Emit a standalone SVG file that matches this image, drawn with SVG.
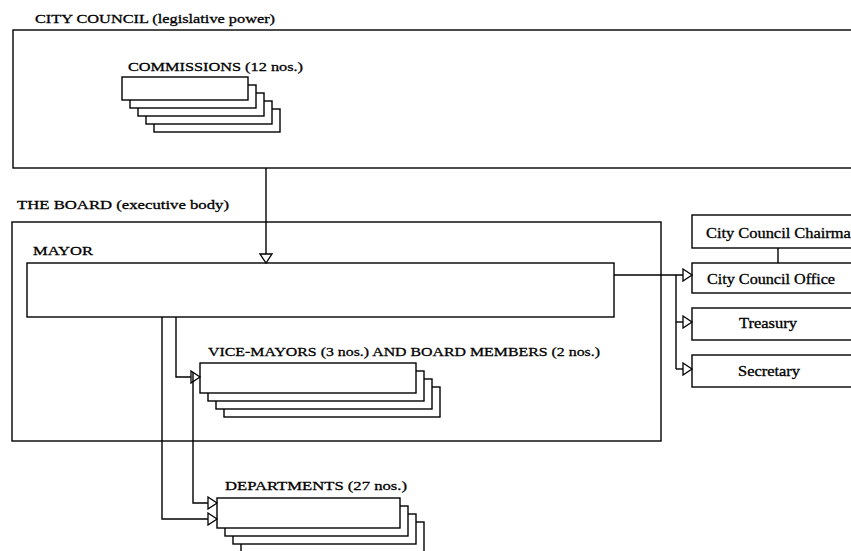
<svg xmlns="http://www.w3.org/2000/svg" width="851" height="551" viewBox="0 0 851 551">
<style>
.box{fill:#fff;stroke:#000;stroke-width:1.4}
.frame{fill:none;stroke:#000;stroke-width:1.4}
.ln{fill:none;stroke:#000;stroke-width:1.4}
text{font-family:"Liberation Serif","Times New Roman",serif;font-size:13.5px;fill:#000;stroke:#000;stroke-width:0.3}
.sm{font-size:14px}
</style>
<defs>
<marker id="arr" viewBox="-1 -1 12 14" markerWidth="12" markerHeight="14" refX="9" refY="6" orient="auto" markerUnits="userSpaceOnUse">
<path d="M0,0 L9,6 L0,12 Z" fill="#fff" stroke="#000" stroke-width="1.3"/>
</marker>
</defs>
<rect width="851" height="551" fill="#fff"/>

<g id="city-council">
<rect class="frame" x="13" y="30" width="860" height="138"/>
<text x="35" y="23" textLength="240" lengthAdjust="spacingAndGlyphs">CITY COUNCIL (legislative power)</text>
</g>

<g id="commissions">
<rect class="box" x="154" y="109" width="126" height="23"/>
<rect class="box" x="146" y="101" width="126" height="23"/>
<rect class="box" x="138" y="93" width="126" height="23"/>
<rect class="box" x="130" y="85" width="126" height="23"/>
<rect class="box" x="122" y="77" width="126" height="23"/>
<text x="128" y="71" textLength="175" lengthAdjust="spacingAndGlyphs">COMMISSIONS (12 nos.)</text>
</g>

<g id="board">
<rect class="frame" x="12" y="222" width="649" height="219"/>
<text x="17" y="209" textLength="212" lengthAdjust="spacingAndGlyphs">THE BOARD (executive body)</text>
</g>

<g id="mayor">
<rect class="box" x="27" y="263" width="587" height="54"/>
<text x="33" y="255" textLength="60" lengthAdjust="spacingAndGlyphs">MAYOR</text>
</g>

<g id="vice-mayors">
<rect class="box" x="224" y="387" width="216" height="30"/>
<rect class="box" x="216" y="379" width="216" height="30"/>
<rect class="box" x="208" y="371" width="216" height="30"/>
<rect class="box" x="200" y="363" width="216" height="30"/>
<text x="208" y="356" textLength="392" lengthAdjust="spacingAndGlyphs">VICE-MAYORS (3 nos.) AND BOARD MEMBERS (2 nos.)</text>
</g>

<g id="departments">
<rect class="box" x="241" y="522" width="183" height="30"/>
<rect class="box" x="233" y="514" width="183" height="30"/>
<rect class="box" x="225" y="506" width="183" height="30"/>
<rect class="box" x="217" y="498" width="183" height="30"/>
<text x="225" y="490" textLength="182" lengthAdjust="spacingAndGlyphs">DEPARTMENTS (27 nos.)</text>
</g>

<g id="chairman">
<rect class="box" x="692" y="215" width="180" height="33"/>
<text class="sm" x="706" y="238" textLength="153" lengthAdjust="spacingAndGlyphs">City Council Chairman</text>
</g>

<g id="council-office">
<rect class="box" x="692" y="263" width="180" height="30"/>
<text class="sm" x="707" y="284" textLength="128" lengthAdjust="spacingAndGlyphs">City Council Office</text>
</g>

<g id="treasury">
<rect class="box" x="692" y="308" width="180" height="32"/>
<text class="sm" x="739" y="328" textLength="58" lengthAdjust="spacingAndGlyphs">Treasury</text>
</g>

<g id="secretary">
<rect class="box" x="692" y="355" width="180" height="32"/>
<text class="sm" x="738" y="376" textLength="62" lengthAdjust="spacingAndGlyphs">Secretary</text>
</g>

<g id="connectors">
<path class="ln" d="M266,168 V263" marker-end="url(#arr)"/>
<path class="ln" d="M614,275 H692" marker-end="url(#arr)"/>
<path class="ln" d="M676,275 V369"/>
<path class="ln" d="M676,322 H692" marker-end="url(#arr)"/>
<path class="ln" d="M676,369 H692" marker-end="url(#arr)"/>
<path class="ln" d="M778,248 V263"/>
<path class="ln" d="M176,317 V377 H200" marker-end="url(#arr)"/>
<path class="ln" d="M193,372 V503 H217" marker-end="url(#arr)"/>
<path class="ln" d="M162,317 V519 H217" marker-end="url(#arr)"/>
</g>
</svg>
